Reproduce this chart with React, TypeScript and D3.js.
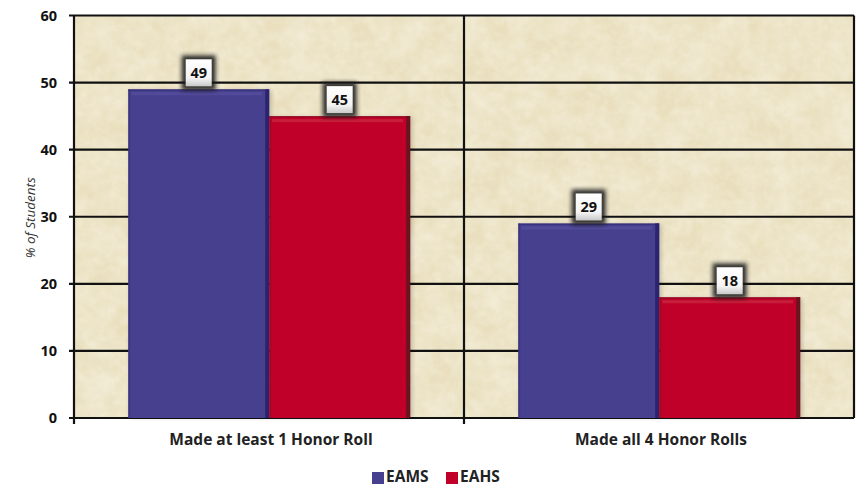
import React from "react";
import * as d3 from "d3";

const categories = ["Made at least 1 Honor Roll", "Made all 4 Honor Rolls"];
const seriesNames = ["EAMS", "EAHS"];
const eamsValues = [49, 29];
const eahsValues = [45, 18];
const yTicks = [0, 10, 20, 30, 40, 50, 60];

const W = 857, H = 487;
const left = 74, right = 854, top = 15.5, bottom = 418;
const FONT = "'Open Sans', Lato, sans-serif";

const colors = {
  EAMS: { main: "#47408E", dark: "#2C2470", light: "#5A54A0" },
  EAHS: { main: "#C00028", dark: "#6A1420", light: "#CC3348" },
};

export default function App() {
  const x0 = d3.scaleBand<string>().domain(categories).range([left, right]).padding(0);
  const inner = x0.bandwidth();
  const x1 = d3.scaleBand<string>().domain(seriesNames).range([inner * 0.139, inner * 0.862]).padding(0);
  const y = d3.scaleLinear().domain([0, 60]).range([bottom, top]);
  const seriesVals: Record<string, number[]> = { EAMS: eamsValues, EAHS: eahsValues };

  return (
    <svg width={W} height={H} style={{ position: "fixed", left: 0, top: 0, background: "#fff" }} fontFamily={FONT}>
      <defs>
        <filter id="paper" x="0" y="0" width="100%" height="100%">
          <feTurbulence type="fractalNoise" baseFrequency="0.035" numOctaves="4" seed="7" result="n" />
          <feColorMatrix in="n" type="matrix"
            values="0 0 0 0 0.93  0 0 0 0 0.89  0 0 0 0 0.76  0.9 0.0 0 0 -0.25" result="c" />
          <feComposite in="c" in2="SourceGraphic" operator="in" />
        </filter>
        <filter id="paper2" x="0" y="0" width="100%" height="100%">
          <feTurbulence type="fractalNoise" baseFrequency="0.12" numOctaves="3" seed="3" result="n" />
          <feColorMatrix in="n" type="matrix"
            values="0 0 0 0 0.97  0 0 0 0 0.95  0 0 0 0 0.86  0 0.9 0 0 -0.35" result="c" />
          <feComposite in="c" in2="SourceGraphic" operator="in" />
        </filter>
        <filter id="halo" x="-50%" y="-50%" width="200%" height="200%">
          <feGaussianBlur stdDeviation="2.2" />
        </filter>
        <linearGradient id="lblGrad" x1="0" y1="0" x2="0" y2="1">
          <stop offset="0" stopColor="#ffffff" />
          <stop offset="0.7" stopColor="#f4f4f4" />
          <stop offset="1" stopColor="#c8c8c8" />
        </linearGradient>
      </defs>

      {/* plot background */}
      <rect x={left} y={top} width={right - left} height={bottom - top} fill="#E9DFBE" />
      <rect x={left} y={top} width={right - left} height={bottom - top} fill="#E9DFBE" filter="url(#paper)" />
      <rect x={left} y={top} width={right - left} height={bottom - top} fill="#fff" filter="url(#paper2)" opacity={0.6} />

      {/* gridlines */}
      {yTicks.map((t) => (
        <line key={t} x1={left - 5} x2={right} y1={y(t)} y2={y(t)} stroke="#111" strokeWidth={2.2} />
      ))}
      {/* vertical separators */}
      {[left, ...categories.map((c) => (x0(c) as number) + inner)].map((xv, i) => (
        <line key={i} x1={xv} x2={xv} y1={top} y2={bottom + (i < 2 ? 6 : 0)} stroke="#111" strokeWidth={2.2} />
      ))}

      {/* bars */}
      {categories.map((c, ci) => (
        <g key={c} transform={`translate(${x0(c)},0)`}>
          {seriesNames.map((s) => {
            const v = seriesVals[s][ci];
            const bx = x1(s) as number;
            const bw = x1.bandwidth();
            const by = y(v);
            const bh = y(0) - by;
            const col = colors[s as "EAMS" | "EAHS"];
            return (
              <g key={s}>
                <rect x={bx + 2} y={by + 1} width={bw} height={bh - 1} fill="#000" opacity={0.18} filter="url(#halo)" />
                <rect x={bx} y={by} width={bw} height={bh} fill={col.main} />
                <rect x={bx + bw - 4} y={by} width={4} height={bh} fill={col.dark} />
                <rect x={bx} y={by} width={2} height={bh} fill={col.dark} opacity={0.35} />
                <rect x={bx + 3} y={by + 3} width={bw - 10} height={3} fill={col.light} opacity={0.6} />
                <rect x={bx} y={by} width={bw} height={1.5} fill={col.dark} opacity={0.5} />
              </g>
            );
          })}
        </g>
      ))}

      {/* value labels */}
      {categories.map((c, ci) =>
        seriesNames.map((s) => {
          const v = seriesVals[s][ci];
          const cx = (x0(c) as number) + (x1(s) as number) + x1.bandwidth() / 2;
          const by = y(v);
          const bw = 26, bh = 27;
          const bx = cx - bw / 2, byy = by - bh - 3;
          return (
            <g key={c + s}>
              <rect x={bx - 4} y={byy - 4} width={bw + 8} height={bh + 8} fill="#1a1a1a" opacity={0.9} filter="url(#halo)" />
              <rect x={bx} y={byy} width={bw} height={bh} fill="url(#lblGrad)" />
              <text x={cx} y={byy + bh / 2 + 5} textAnchor="middle" fontSize={14.5} fontWeight={700} fill="#111">
                {v}
              </text>
            </g>
          );
        })
      )}

      {/* y tick labels */}
      {yTicks.map((t) => (
        <text key={t} x={57} y={y(t) + 5} textAnchor="end" fontSize={14.5} fontWeight={700} fill="#111">
          {t}
        </text>
      ))}

      {/* y axis title */}
      <text transform={`translate(35,${(top + bottom) / 2 + 1}) rotate(-90)`} textAnchor="middle" fontSize={13.5} fontStyle="italic" fill="#333">
        % of Students
      </text>

      {/* category labels */}
      {categories.map((c) => (
        <text key={c} x={(x0(c) as number) + inner / 2 + 2} y={445} textAnchor="middle" fontSize={15.5} fontWeight={700} fill="#222">
          {c}
        </text>
      ))}

      {/* legend */}
      {seriesNames.map((s, i) => {
        const lx = [372, 446][i];
        const col = colors[s as "EAMS" | "EAHS"];
        return (
          <g key={s}>
            <rect x={lx} y={472} width={12} height={12} fill={col.main} />
            <text x={lx + 14} y={482} fontSize={15.5} fontWeight={700} fill="#222">
              {s}
            </text>
          </g>
        );
      })}
    </svg>
  );
}
